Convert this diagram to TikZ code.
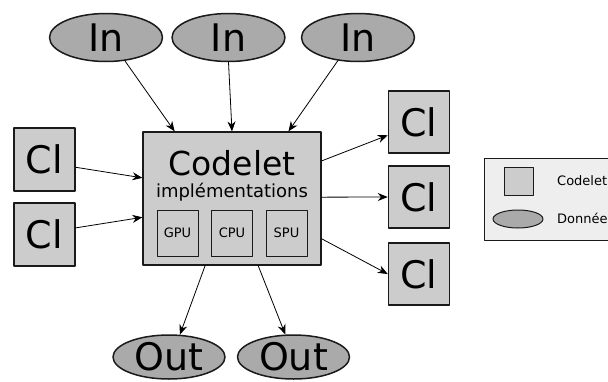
\documentclass[tikz,border=0pt]{standalone}
\usepackage{fontspec}
\setmainfont{DejaVu Sans}
\usetikzlibrary{calc, arrows.meta, shapes.geometric}

\definecolor{boxgray}{HTML}{CCCCCC}
\definecolor{datagray}{HTML}{AAAAAA}
\definecolor{legendgray}{HTML}{EEEEEE}
\definecolor{edgegray}{HTML}{1A1A1A}

\begin{document}
\begin{tikzpicture}[line cap=round,line join=round,x=1pt,y=-1pt]
\tikzset{>={Stealth[length=10pt,width=8pt]}}
\tikzset{
    codeletbox/.style={draw=edgegray, line width=1.5pt, fill=boxgray, inner sep=0pt,
        minimum width=61, minimum height=62, font=\fontsize{38}{38}\selectfont},
    implbox/.style={draw=edgegray, line width=1pt, fill=boxgray, inner sep=0pt,
        minimum width=41, minimum height=46, font=\fontsize{13}{13}\selectfont},
    databubble/.style={ellipse, draw=edgegray, line width=1.5pt, fill=datagray, inner sep=0pt,
        minimum width=113, minimum height=48, font=\fontsize{38}{38}\selectfont},
    flow/.style={->, line width=0.8pt, draw=black},
}

\useasboundingbox (0,0) rectangle (608,381);
\clip (0,0) rectangle (608,381);

% central codelet
\node[draw=edgegray, line width=1.2pt, fill=boxgray, minimum width=178, minimum height=133,
    inner sep=0pt] (codelet) at (232,198.5) {};
\node[font=\fontsize{33}{33}\selectfont] (title) at (232,163) {Codelet};
\node[font=\fontsize{18}{18}\selectfont] (impl) at (232,192) {implémentations};
\node[implbox] (gpu) at (177.5,233) {GPU};
\node[implbox] (cpu) at (232,233) {CPU};
\node[implbox] (spu) at (286.5,233) {SPU};

% inputs
\foreach \x [count=\i] in {106,228.5,358} {
    \node[databubble] (in\i) at (\x,37.5) {In};
}

% outputs
\foreach \x [count=\i] in {169,293.5} {
    \node[databubble, minimum width=112, minimum height=44] (out\i) at (\x,357) {Out};
}

% codelets left and right
\node[codeletbox, minimum height=63] (cl1) at (44.5,159.5) {Cl};
\node[codeletbox, minimum height=63] (cl2) at (44.5,234.5) {Cl};
\node[codeletbox] (cr1) at (419,122) {Cl};
\node[codeletbox] (cr2) at (419,197) {Cl};
\node[codeletbox] (cr3) at (419,274) {Cl};

% arrows in
\draw[flow] (in1.-51) -- ($(codelet.north west)!0.18!(codelet.north east)$);
\draw[flow] (in2.south) -- ($(codelet.north west)!0.5!(codelet.north east)$);
\draw[flow] (in3.-131) -- ($(codelet.north west)!0.815!(codelet.north east)$);
\draw[flow] (cl1.-14) -- ($(codelet.north west)!0.346!(codelet.south west)$);
\draw[flow] (cl2.12) -- ($(codelet.north west)!0.64!(codelet.south west)$);

% arrows out
\draw[flow] ($(codelet.north east)!0.22!(codelet.south east)$) -- (cr1.203);
\draw[flow] ($(codelet.north east)!0.49!(codelet.south east)$) -- (cr2.west);
\draw[flow] ($(codelet.north east)!0.80!(codelet.south east)$) -- (cr3.west);
\draw[flow] ($(codelet.south west)!0.35!(codelet.south east)$) -- (out1.64);
\draw[flow] ($(codelet.south west)!0.646!(codelet.south east)$) -- (out2.110);

% legend
\node[draw=edgegray, line width=0.8pt, fill=legendgray, minimum width=150, minimum height=82,
    inner sep=0pt, anchor=north west] (legend) at (484,158) {};
\node[draw=edgegray, line width=1pt, fill=boxgray, minimum width=29, minimum height=28,
    inner sep=0pt] (keybox) at (518.5,181) {};
\node[ellipse, draw=edgegray, line width=1pt, fill=datagray, minimum width=50, minimum height=18,
    inner sep=0pt] (keydata) at (518,219) {};
\node[anchor=west, inner sep=0pt, font=\fontsize{13}{13}\selectfont] (keyboxtext) at (557,181) {Codelet};
\node[anchor=west, inner sep=0pt, font=\fontsize{13}{13}\selectfont] (keydatatext) at (557,218) {Données};

\end{tikzpicture}
\end{document}
